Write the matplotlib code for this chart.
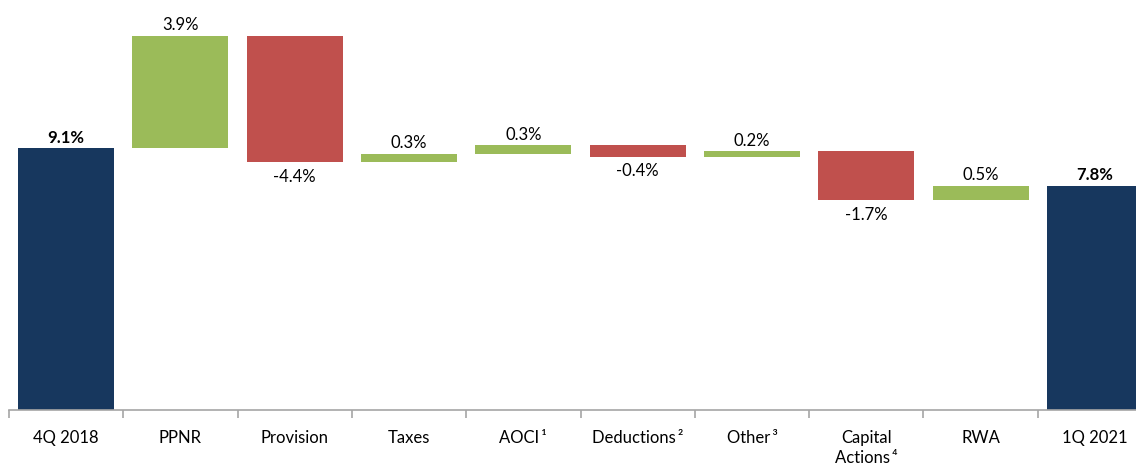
import matplotlib
matplotlib.use("Agg")
import matplotlib.pyplot as plt
import numpy as np

plt.rcParams['font.family'] = ['Lato', 'DejaVu Sans']

categories = ['4Q 2018', 'PPNR', 'Provision', 'Taxes', 'AOCI\u2009\u00b9', 'Deductions\u2009\u00b2',
              'Other\u2009\u00b3', 'Capital\nActions\u2009\u2074', 'RWA', '1Q 2021']
start_value = 9.1
deltas = [3.9, -4.4, 0.3, 0.3, -0.4, 0.2, -1.7, 0.5]
end_value = 7.8

navy = '#17375E'
green = '#9BBB59'
red = '#C0504D'

fig = plt.figure(figsize=(11.36, 4.64), dpi=100)
ax = fig.add_axes([9 / 1136, 53 / 464, 1143 / 1136, 411 / 464])

x = np.arange(len(categories))
w = 0.84

# endpoints
ax.bar(x[0], start_value, width=w, color=navy)
ax.bar(x[-1], end_value, width=w, color=navy)
ax.text(x[0], start_value + 0.12, f'{start_value:.1f}%', ha='center', va='bottom',
        fontsize=12, fontweight='bold')
ax.text(x[-1], end_value + 0.12, f'{end_value:.1f}%', ha='center', va='bottom',
        fontsize=12, fontweight='bold')

cum = start_value
for i, d in enumerate(deltas):
    xi = x[i + 1]
    bottom = cum if d > 0 else cum + d
    ax.bar(xi, abs(d), bottom=bottom, width=w, color=green if d > 0 else red)
    if d > 0:
        ax.text(xi, cum + d + 0.12, f'{d:.1f}%', ha='center', va='bottom', fontsize=12)
    else:
        ax.text(xi, cum + d - 0.2, f'{d:.1f}%', ha='center', va='top', fontsize=12)
    cum += d

ax.set_xlim(-0.5, len(categories) - 0.5)
ax.set_ylim(0, 14.28)

for s in ['top', 'right', 'left']:
    ax.spines[s].set_visible(False)
ax.spines['bottom'].set_color('#A6A6A6')
ax.spines['bottom'].set_linewidth(1.2)
ax.set_yticks([])

ax.set_xticks(x)
ax.set_xticklabels(categories, fontsize=12, va='top', linespacing=1.25)
ax.tick_params(axis='x', which='major', length=0, pad=14)
ax.set_xticks(np.arange(-0.5, len(categories), 1.0), minor=True)
ax.tick_params(axis='x', which='minor', length=6, color='#A6A6A6', width=1.2)

fig.savefig('out.png', dpi=100)
